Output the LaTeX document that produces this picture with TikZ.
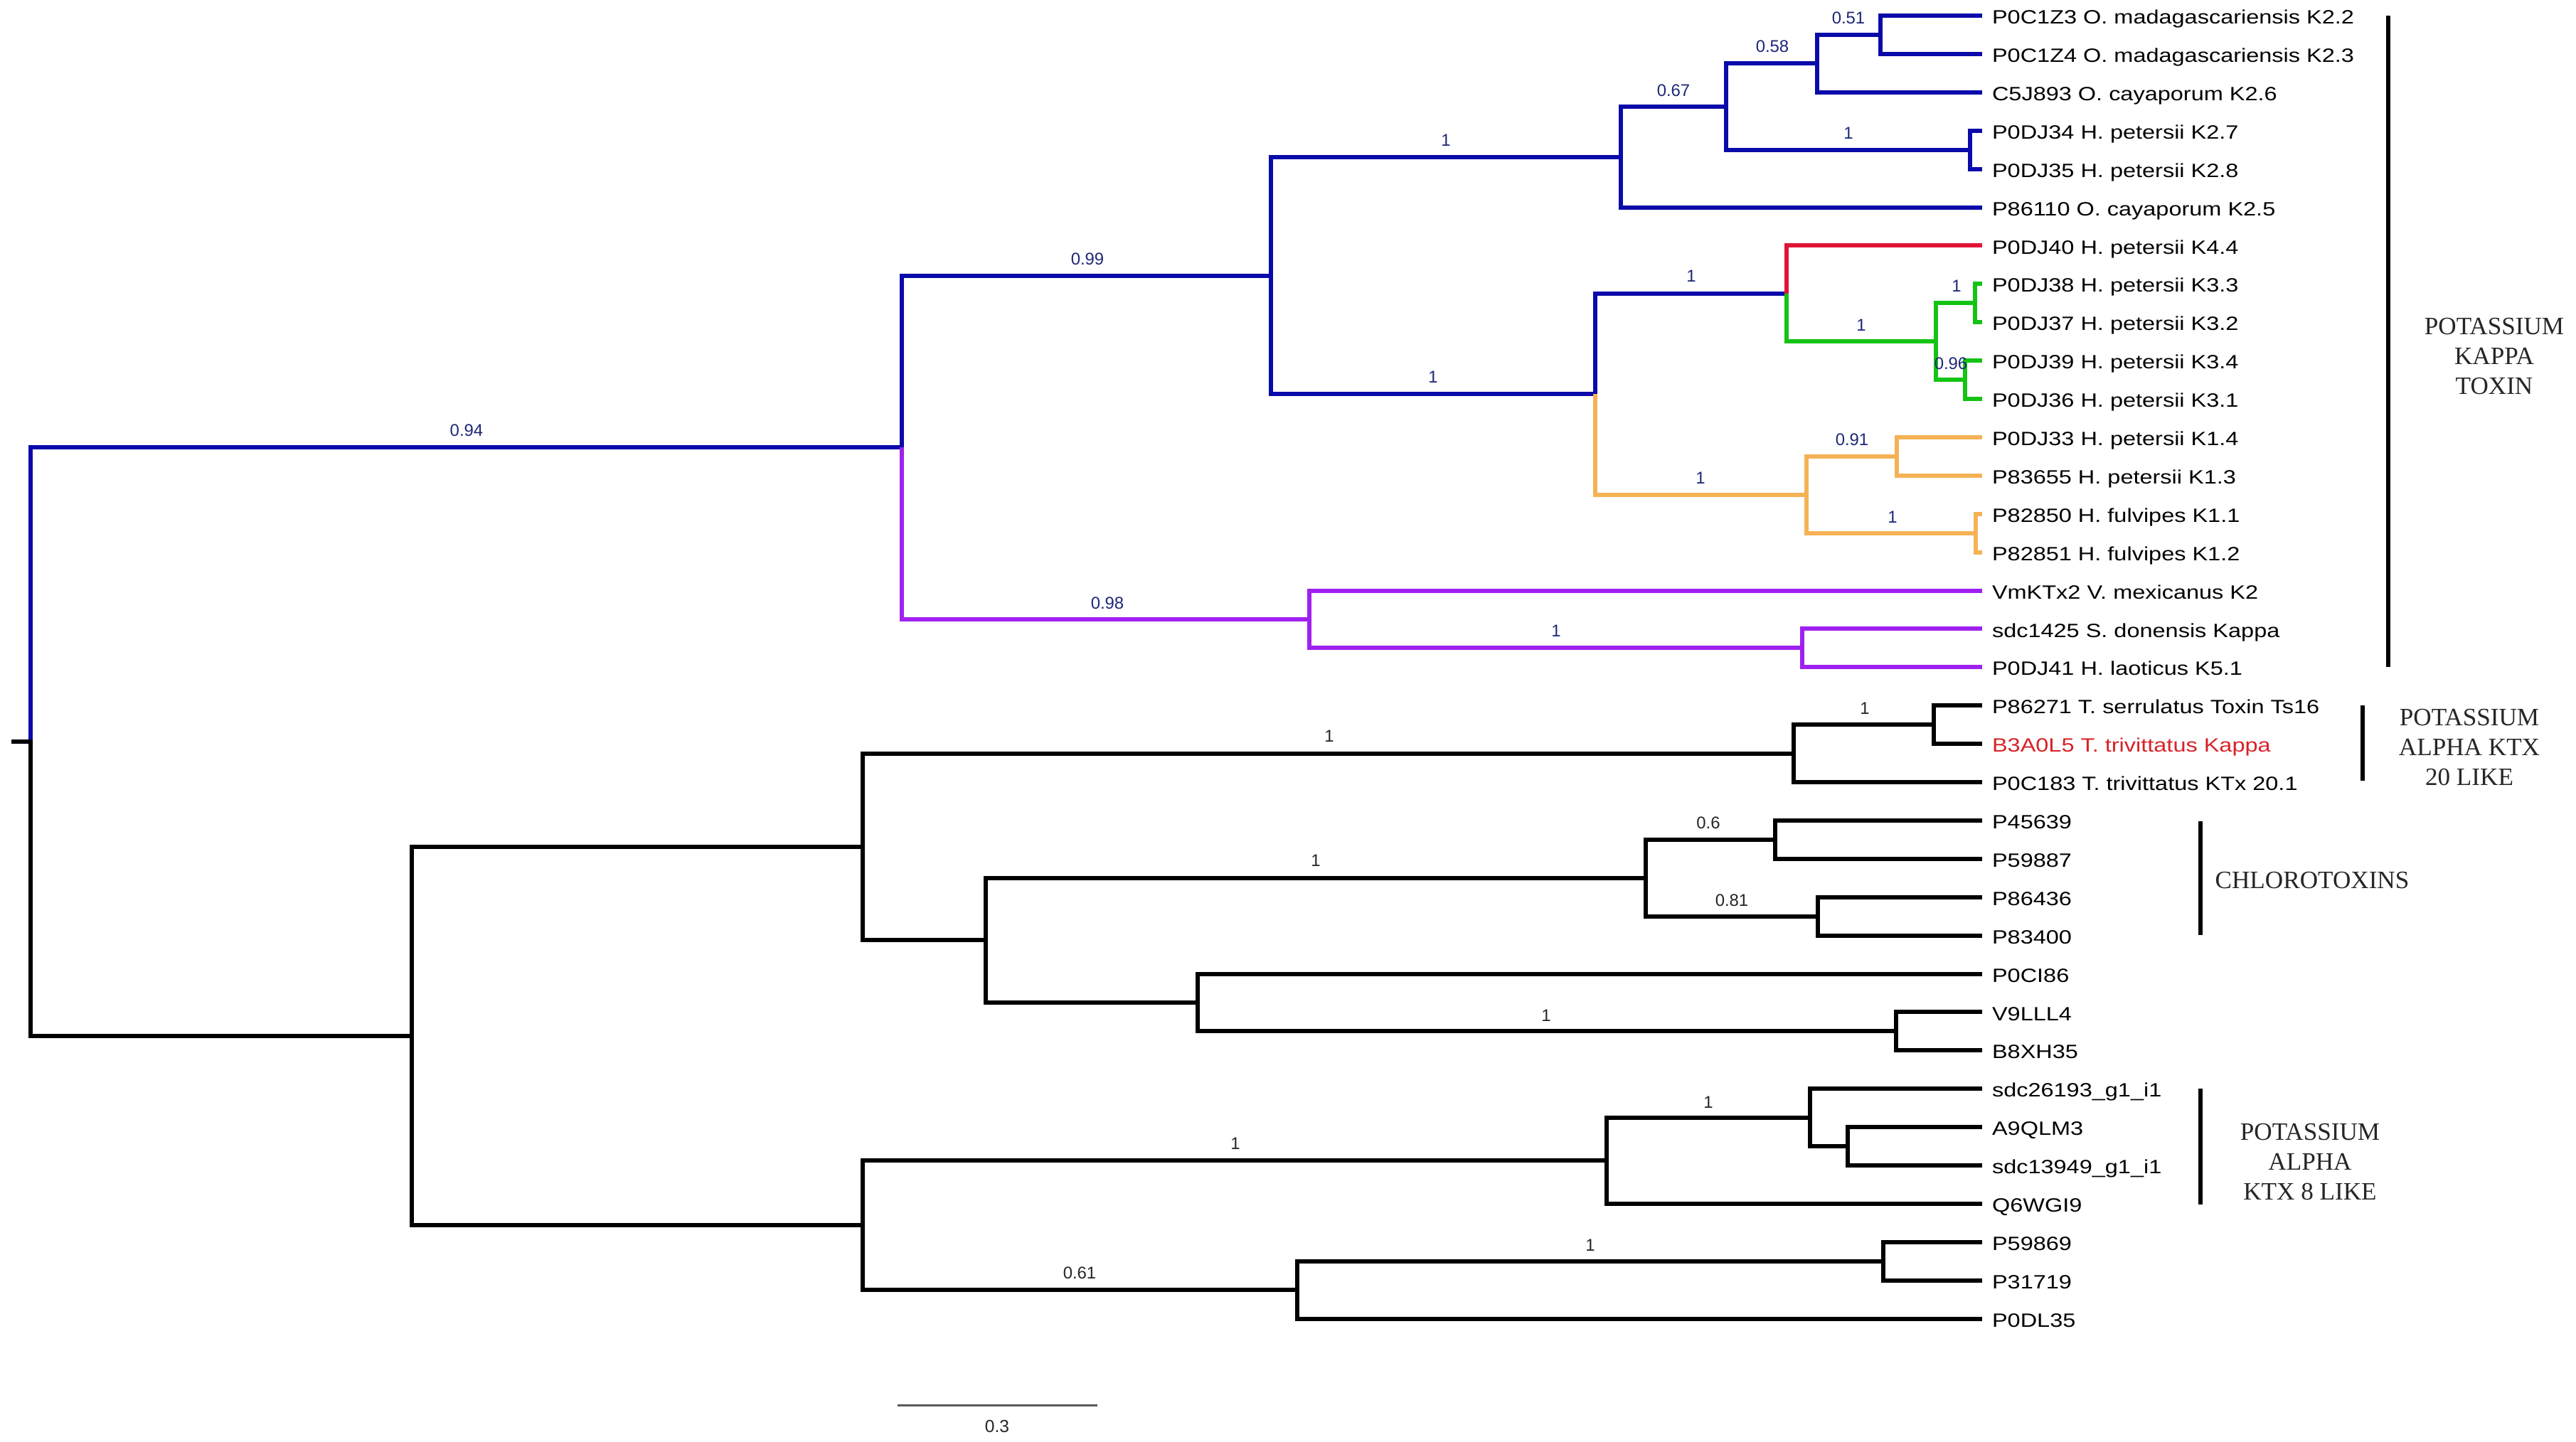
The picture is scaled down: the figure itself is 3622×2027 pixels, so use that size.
\documentclass[tikz,border=0pt]{standalone}
\usepackage{fontspec}
\setmainfont{Liberation Sans}
\newfontfamily\leaffont[FakeStretch=1.2]{Liberation Sans}
\newfontfamily\bsfont{Liberation Sans}
\newfontfamily\grpfont{Liberation Serif}
\usepackage{tikz}
\definecolor{kblue}{RGB}{10,10,170}
\definecolor{kpurple}{RGB}{160,32,240}
\definecolor{kgreen}{RGB}{20,195,20}
\definecolor{kred}{RGB}{225,20,55}
\definecolor{korange}{RGB}{245,178,85}
\definecolor{bsblue}{RGB}{30,40,120}
\definecolor{labred}{RGB}{215,35,40}
\tikzstyle{br} = [line width=0.6mm, line join=miter]
\tikzstyle{lab} = [text width=6cm, align=left, inner xsep=1.4mm, inner ysep=0pt, outer sep=0pt, text height=2.9mm, text depth=0.58mm, font=\leaffont\fontsize{7.7}{9}\selectfont]
\tikzstyle{bs} = [inner sep=0pt, font=\bsfont\fontsize{6.8}{8}\selectfont, text=bsblue]
\tikzstyle{bsb} = [bs, text=black!85]
\tikzstyle{grp} = [align=center, inner sep=0pt, font=\grpfont\fontsize{10}{12}\selectfont, text=black!85]
\tikzstyle{bar} = [line width=0.55mm]

\begin{document}
\begin{tikzpicture}[x=0.1mm,y=-0.1mm,node distance=5.39mm]
			\useasboundingbox (0,0) rectangle (3622,2027);
			\fill[white] (0,0) rectangle (3622,2027);
			% leaves
			\node[lab,anchor=west](l1) at (2787,22){P0C1Z3 O. madagascariensis K2.2};
			\node[lab,below of=l1](l2){P0C1Z4 O. madagascariensis K2.3};
			\node[lab,below of=l2](l3){C5J893 O. cayaporum K2.6};
			\node[lab,below of=l3](l4){P0DJ34 H. petersii K2.7};
			\node[lab,below of=l4](l5){P0DJ35 H. petersii K2.8};
			\node[lab,below of=l5](l6){P86110 O. cayaporum K2.5};
			\node[lab,below of=l6](l7){P0DJ40 H. petersii K4.4};
			\node[lab,below of=l7](l8){P0DJ38 H. petersii K3.3};
			\node[lab,below of=l8](l9){P0DJ37 H. petersii K3.2};
			\node[lab,below of=l9](l10){P0DJ39 H. petersii K3.4};
			\node[lab,below of=l10](l11){P0DJ36 H. petersii K3.1};
			\node[lab,below of=l11](l12){P0DJ33 H. petersii K1.4};
			\node[lab,below of=l12](l13){P83655 H. petersii K1.3};
			\node[lab,below of=l13](l14){P82850 H. fulvipes K1.1};
			\node[lab,below of=l14](l15){P82851 H. fulvipes K1.2};
			\node[lab,below of=l15](l16){VmKTx2 V. mexicanus K2};
			\node[lab,below of=l16](l17){sdc1425 S. donensis Kappa};
			\node[lab,below of=l17](l18){P0DJ41 H. laoticus K5.1};
			\node[lab,below of=l18](l19){P86271 T. serrulatus Toxin Ts16};
			\node[lab,below of=l19,text=labred](l20){B3A0L5 T. trivittatus Kappa};
			\node[lab,below of=l20](l21){P0C183 T. trivittatus KTx 20.1};
			\node[lab,below of=l21](l22){P45639};
			\node[lab,below of=l22](l23){P59887};
			\node[lab,below of=l23](l24){P86436};
			\node[lab,below of=l24](l25){P83400};
			\node[lab,below of=l25](l26){P0CI86};
			\node[lab,below of=l26](l27){V9LLL4};
			\node[lab,below of=l27](l28){B8XH35};
			\node[lab,below of=l28](l29){sdc26193\_g1\_i1};
			\node[lab,below of=l29](l30){A9QLM3};
			\node[lab,below of=l30](l31){sdc13949\_g1\_i1};
			\node[lab,below of=l31](l32){Q6WGI9};
			\node[lab,below of=l32](l33){P59869};
			\node[lab,below of=l33](l34){P31719};
			\node[lab,below of=l34](l35){P0DL35};

			% inner nodes
			\coordinate (stub) at (16,1043.2);
			\coordinate (root) at (43,1043.2);
			\coordinate (A) at (1268,629.2);
			\coordinate (B) at (1787,387.5);
			\coordinate (C) at (2279,220.8);
			\coordinate (D) at (2427,150);
			\coordinate (E) at (2555,89.4);
			\coordinate (F) at (2644,49);
			\coordinate (G) at (2770,210.7);
			\coordinate (H) at (2243,554.3);
			\coordinate (I) at (2512,412.8);
			\coordinate (J) at (2722,480.2);
			\coordinate (K) at (2777,426.3);
			\coordinate (L) at (2763,534);
			\coordinate (M) at (2540,695.8);
			\coordinate (N) at (2667,641.9);
			\coordinate (O) at (2778,749.7);
			\coordinate (P) at (1841,870.9);
			\coordinate (Q) at (2534,911.4);
			\coordinate (R) at (579,1457.1);
			\coordinate (S) at (1213,1191);
			\coordinate (T) at (2522,1059.6);
			\coordinate (U) at (2719,1019.2);
			\coordinate (V) at (1386,1322.4);
			\coordinate (W) at (2314,1234.8);
			\coordinate (X) at (1684,1410);
			\coordinate (Y) at (2496,1180.9);
			\coordinate (Z) at (2556,1288.7);
			\coordinate (AA) at (2666,1450.4);
			\coordinate (BB) at (1213,1723.2);
			\coordinate (CC) at (2259,1632.3);
			\coordinate (DD) at (1824,1814.2);
			\coordinate (EE) at (2545,1571.6);
			\coordinate (FF) at (2598,1612.1);
			\coordinate (GG) at (2648,1773.8);

			% kappa toxins
			\draw[br,kblue] (root) |- (A);
			\draw[br,kblue] (A) |- (B);
			\draw[br,kpurple] (A) |- (P);
			\draw[br,kblue] (B) |- (C) (B) |- (H);
			\draw[br,kblue] (C) |- (D) (C) |- (l6.west);
			\draw[br,kblue] (D) |- (E) (D) |- (G);
			\draw[br,kblue] (E) |- (F) (E) |- (l3.west);
			\draw[br,kblue] (F) |- (l1.west) (F) |- (l2.west);
			\draw[br,kblue] (G) |- (l4.west) (G) |- (l5.west);
			\draw[br,kblue] (H) |- (I);
			\draw[br,korange] (H) |- (M);
			\draw[br,kred] (I) |- (l7.west);
			\draw[br,kgreen] (I) |- (J);
			\draw[br,kgreen] (J) |- (K) (J) |- (L);
			\draw[br,kgreen] (K) |- (l8.west) (K) |- (l9.west);
			\draw[br,kgreen] (L) |- (l10.west) (L) |- (l11.west);
			\draw[br,korange] (M) |- (N) (M) |- (O);
			\draw[br,korange] (N) |- (l12.west) (N) |- (l13.west);
			\draw[br,korange] (O) |- (l14.west) (O) |- (l15.west);
			\draw[br,kpurple] (P) |- (l16.west) (P) |- (Q);
			\draw[br,kpurple] (Q) |- (l17.west) (Q) |- (l18.west);

			% black part
			\draw[br] (stub) -- (root) |- (R);
			\draw[br] (R) |- (S) (R) |- (BB);
			\draw[br] (S) |- (T) (S) |- (V);
			\draw[br] (T) |- (U) (T) |- (l21.west);
			\draw[br] (U) |- (l19.west) (U) |- (l20.west);
			\draw[br] (V) |- (W) (V) |- (X);
			\draw[br] (W) |- (Y) (W) |- (Z);
			\draw[br] (Y) |- (l22.west) (Y) |- (l23.west);
			\draw[br] (Z) |- (l24.west) (Z) |- (l25.west);
			\draw[br] (X) |- (l26.west) (X) |- (AA);
			\draw[br] (AA) |- (l27.west) (AA) |- (l28.west);
			\draw[br] (BB) |- (CC) (BB) |- (DD);
			\draw[br] (CC) |- (EE) (CC) |- (l32.west);
			\draw[br] (EE) |- (l29.west) (EE) |- (FF);
			\draw[br] (FF) |- (l30.west) (FF) |- (l31.west);
			\draw[br] (DD) |- (GG) (DD) |- (l35.west);
			\draw[br] (GG) |- (l33.west) (GG) |- (l34.west);

			% support values
			\node[bs](v1) at (656,605){0.94};
			\node[bs](v2) at (1529,364){0.99};
			\node[bs](v3) at (2033,197){1};
			\node[bs](v4) at (2015,530){1};
			\node[bs](v5) at (2353,127){0.67};
			\node[bs](v6) at (2492,65){0.58};
			\node[bs](v7) at (2599,25){0.51};
			\node[bs](v8) at (2599,187){1};
			\node[bs](v9) at (2378,388){1};
			\node[bs](v10) at (2617,457){1};
			\node[bs](v11) at (2751,402){1};
			\node[bs](v12) at (2743,511){0.96};
			\node[bs](v13) at (2391,672){1};
			\node[bs](v14) at (2604,618){0.91};
			\node[bs](v15) at (2661,727){1};
			\node[bs](v16) at (1557,848){0.98};
			\node[bs](v17) at (2188,887){1};
			\node[bsb](v18) at (1869,1035){1};
			\node[bsb](v19) at (2622,996){1};
			\node[bsb](v20) at (1850,1210){1};
			\node[bsb](v21) at (2402,1157){0.6};
			\node[bsb](v22) at (2435,1266){0.81};
			\node[bsb](v23) at (2174,1428){1};
			\node[bsb](v24) at (1737,1608){1};
			\node[bsb](v25) at (2402,1550){1};
			\node[bsb](v26) at (1518,1790){0.61};
			\node[bsb](v27) at (2236,1751){1};

			% groups
			\coordinate (g1a) at (3358,22);
			\coordinate (g1b) at (3358,938);
			\coordinate (g2a) at (3322,992);
			\coordinate (g2b) at (3322,1098);
			\coordinate (g3a) at (3094,1155);
			\coordinate (g3b) at (3094,1315);
			\coordinate (g4a) at (3094,1531);
			\coordinate (g4b) at (3094,1694);
			\draw[bar] (g1a)--(g1b);
			\draw[bar] (g2a)--(g2b);
			\draw[bar] (g3a)--(g3b);
			\draw[bar] (g4a)--(g4b);
			\node[grp](g1) at (3507,501){POTASSIUM\\KAPPA\\TOXIN};
			\node[grp](g2) at (3472,1051){POTASSIUM\\ALPHA KTX\\20 LIKE};
			\node[grp](g3) at (3251,1238){CHLOROTOXINS};
			\node[grp](g4) at (3248,1634){POTASSIUM\\ALPHA\\KTX 8 LIKE};

			% scale
			\coordinate (s1) at (1262,1976);
			\coordinate (s2) at (1543,1976);
			\draw[line width=0.3mm,black!65] (s1)--(s2);
			\node[bsb,anchor=base,font=\bsfont\fontsize{7}{8}\selectfont](s0) at (1402,2014){0.3};
			\end{tikzpicture}
\end{document}
